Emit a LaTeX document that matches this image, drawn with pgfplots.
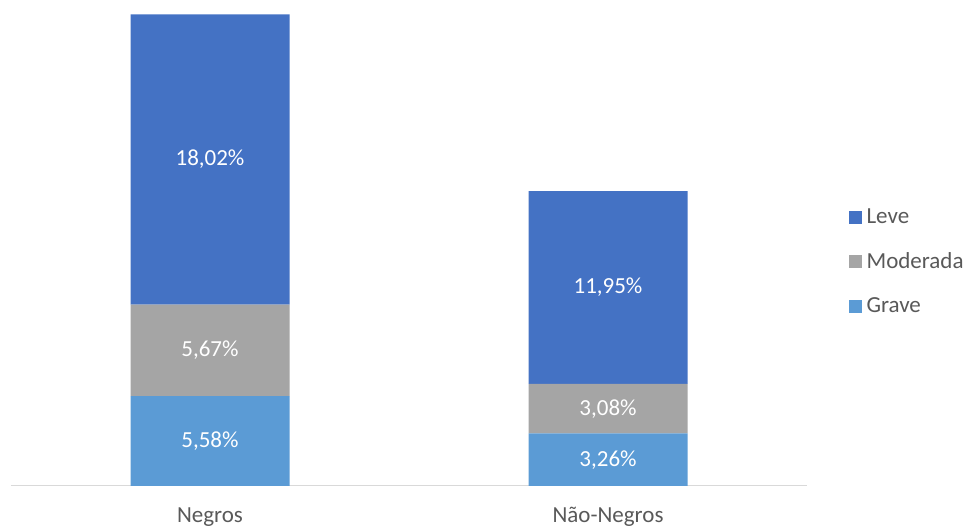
\documentclass[border=0pt]{standalone}
\usepackage{pgfplots}
\pgfplotsset{compat=1.18}
\usepackage{pgfplotstable}
\usepackage{fontspec}
\setmainfont{Carlito}
\definecolor{leve}{HTML}{4472C4}
\definecolor{moder}{HTML}{A5A5A5}
\definecolor{grave}{HTML}{5B9BD5}
\definecolor{txt}{HTML}{595959}
\definecolor{axl}{HTML}{D9D9D9}
\newcommand\ff{\fontsize{17.25}{20}\selectfont}

\pgfplotstableread{
x v
0 5.58
1 3.26
}\tgrave
\pgfplotstableread{
x v
0 5.67
1 3.08
}\tmoder
\pgfplotstableread{
x v
0 18.02
1 11.95
}\tleve

\begin{document}
\begin{tikzpicture}
\path[use as bounding box] (-8.25pt,-30.75pt) rectangle (719.25pt,364.5pt);
\begin{axis}[
  at={(0,0)}, anchor=south west,
  scale only axis, width=597pt, height=353.8pt,
  ybar stacked, bar width=119.25pt,
  xmin=-0.5, xmax=1.5, ymin=0, ymax=29.27,
  axis x line*=bottom, axis y line=none,
  x axis line style={draw=axl, line width=0.75pt, -},
  xtick={0,1}, xticklabels={Negros, Não-Negros}, major tick length=0pt,
  xticklabel style={anchor=base, yshift=-27.75pt, font=\ff, text=txt},
  ytick=\empty,
  /pgf/number format/assume math mode=true,
  point meta=explicit,
  nodes near coords={\pgfmathprintnumber[fixed,fixed zerofill,precision=2,use comma]{\pgfplotspointmeta}\%},
  every node near coord/.append style={anchor=center, text=white, font=\ff},
  legend style={draw=none, fill=none, at={(1.0519,0.4755)}, anchor=west, font=\ff, text=txt, row sep=16.25pt, inner sep=0pt},
  legend cell align=left,
  reverse legend,
  legend image code/.code={\fill[#1] (0pt,-4.875pt) rectangle (9.75pt,4.875pt); \path (11.5pt,0pt);},
]
\addplot[fill=grave, draw=none] table[x=x, y=v, meta=v] {\tgrave};
\addlegendentry{Grave}
\addplot[fill=moder, draw=none] table[x=x, y=v, meta=v] {\tmoder};
\addlegendentry{Moderada}
\addplot[fill=leve, draw=none] table[x=x, y=v, meta=v] {\tleve};
\addlegendentry{Leve}
\end{axis}
\end{tikzpicture}
\end{document}
